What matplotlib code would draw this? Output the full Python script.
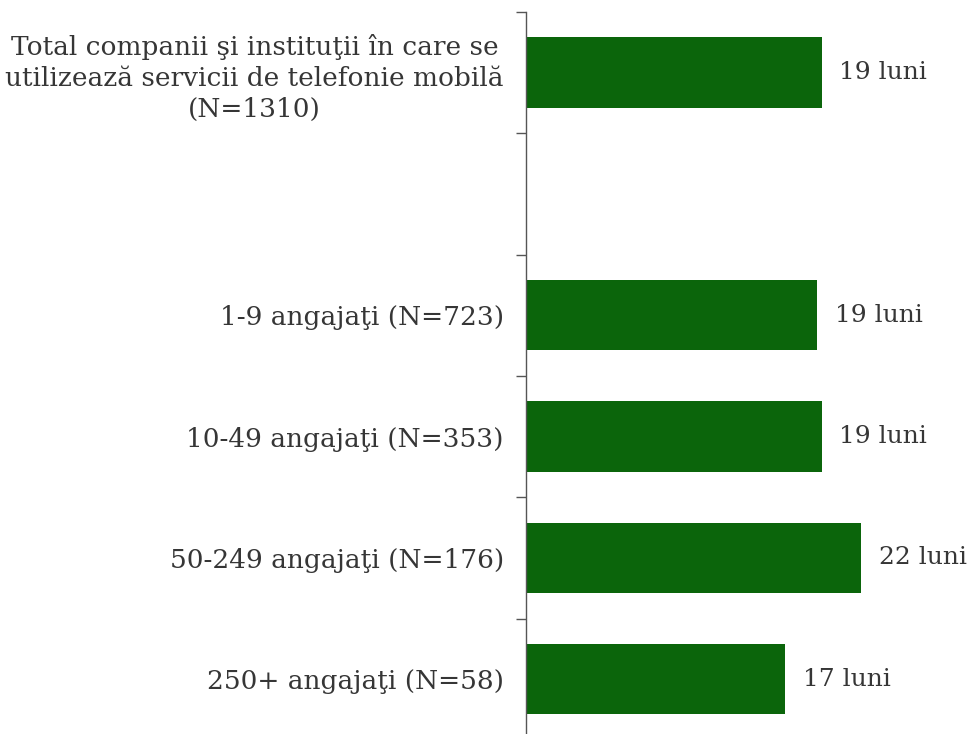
import numpy as np
import matplotlib.pyplot as plt

# categorii (cu un rand gol intre total si grupuri)
categorii = [
    "Total companii şi instituţii în care se\nutilizează servicii de telefonie mobilă\n(N=1310)",
    "",
    "1-9 angajaţi (N=723)",
    "10-49 angajaţi (N=353)",
    "50-249 angajaţi (N=176)",
    "250+ angajaţi (N=58)",
]
valori = [19.4, np.nan, 19.1, 19.4, 22.0, 17.0]
etichete = ["19 luni", "", "19 luni", "19 luni", "22 luni", "17 luni"]

culoare = "#0B650B"
text_col = "#363636"

plt.rcParams["font.family"] = ["DejaVu Serif"]

fig = plt.figure(figsize=(9.75, 7.34), dpi=100)
ax = fig.add_axes([526 / 975, -0.008, 445 / 975, 0.9918])

y = np.arange(len(categorii))
ax.barh(y, np.nan_to_num(valori), height=0.58, color=culoare)

for yi, v, t in zip(y, valori, etichete):
    if t:
        ax.text(v + 1.15, yi, t, va="center", ha="left", fontsize=18,
                color=text_col, clip_on=False)

ax.set_ylim(len(categorii) - 0.5, -0.5)
ax.set_xlim(0, 29.2)

ax.set_yticks(y)
ax.set_yticklabels(categorii, fontsize=19, color=text_col,
                   multialignment="center", linespacing=1.3)
ax.tick_params(axis="y", which="major", length=0, pad=16)
ax.set_yticks(np.arange(-0.5, len(categorii) + 0.5, 1), minor=True)
ax.tick_params(axis="y", which="minor", length=7, width=1, color="#555555",
               direction="out")

ax.set_xticks([])
for s in ["top", "right", "bottom"]:
    ax.spines[s].set_visible(False)
ax.spines["left"].set_color("#555555")
ax.spines["left"].set_linewidth(1)

fig.savefig("out.png", dpi=100)
